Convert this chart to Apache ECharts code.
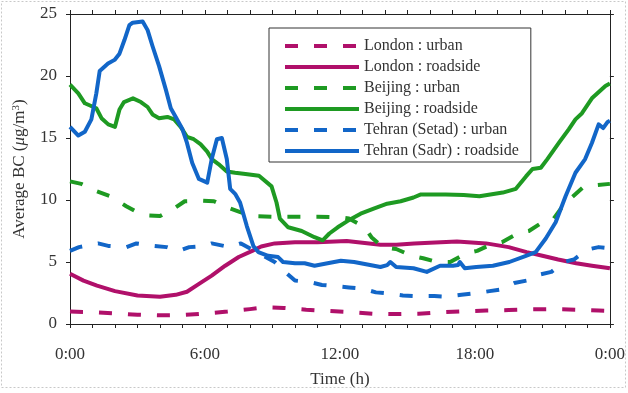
<!DOCTYPE html>
<html>
<head>
<meta charset="utf-8">
<script src="https://cdn.jsdelivr.net/npm/echarts@6/dist/echarts.min.js"></script>
<style>html,body{margin:0;padding:0;background:#fff;}#c{width:628px;height:393px;}</style>
</head>
<body>
<div id="c"></div>
<script>
// ---- data (hour, value) ----
const seriesNames = ['London : urban', 'London : roadside', 'Beijing : urban', 'Beijing : roadside', 'Tehran (Setad) : urban', 'Tehran (Sadr) : roadside'];
const xTickLabels = ['0:00', '6:00', '12:00', '18:00', '0:00'];

const londonUrban = [[0,1.0],[1,0.95],[2,0.85],[3,0.75],[4,0.7],[5,0.72],[6,0.85],[7,1.0],[8,1.2],[8.7,1.35],[9.5,1.3],[10.5,1.15],[11.5,1.05],[12.5,0.95],[13.5,0.82],[14.5,0.8],[15.5,0.82],[16.5,0.95],[17.5,1.03],[18.5,1.08],[19.5,1.12],[20.5,1.18],[21.5,1.2],[22.5,1.15],[23.5,1.08],[24,1.05]];

const londonRoadside = [[0,4.05],[0.6,3.5],[1.2,3.1],[2,2.65],[3,2.3],[4,2.2],[4.7,2.35],[5.2,2.6],[5.7,3.2],[6.3,3.9],[6.9,4.7],[7.5,5.4],[8.1,5.9],[8.5,6.25],[9.1,6.5],[10,6.6],[11,6.6],[12.3,6.7],[13,6.55],[13.8,6.4],[14.5,6.4],[15.3,6.5],[16,6.55],[17.2,6.65],[18.5,6.5],[19.5,6.2],[20.3,5.8],[21,5.5],[21.7,5.2],[22.5,4.9],[23.2,4.7],[24,4.5]];

const beijingUrban = [[0,11.5],[0.5,11.3],[1.2,10.7],[1.8,10.3],[2.5,9.5],[2.9,9.1],[3.5,8.75],[4.0,8.7],[4.7,9.4],[5.1,9.9],[5.9,9.95],[6.4,9.9],[7.0,9.4],[7.6,9.0],[8.2,8.7],[9,8.65],[10,8.65],[11,8.65],[12,8.6],[12.4,8.5],[13.1,7.8],[13.4,7.0],[13.9,6.2],[14.5,6.05],[15.2,5.5],[15.7,5.3],[16.3,5.0],[16.9,5.0],[17.6,5.7],[18.1,5.9],[18.7,6.4],[19.2,6.6],[19.9,7.3],[20.4,7.5],[21,8.2],[21.5,8.5],[22.1,10.0],[22.3,10.2],[22.8,11.0],[23.4,11.2],[24,11.3]];

const beijingRoadside = [[0,19.3],[0.37,18.6],[0.66,17.8],[1.17,17.4],[1.4,16.6],[1.7,16.1],[2.0,15.9],[2.2,17.3],[2.4,17.9],[2.8,18.2],[3.15,17.9],[3.45,17.5],[3.67,16.9],[3.96,16.6],[4.33,16.7],[4.63,16.5],[4.92,15.9],[5.2,15.1],[5.5,14.9],[5.8,14.5],[6.1,13.9],[6.3,13.3],[6.6,12.9],[6.97,12.3],[7.34,12.2],[7.8,12.1],[8.4,11.95],[8.96,11.1],[9.18,9.8],[9.33,8.5],[9.7,7.8],[10.3,7.5],[10.87,7.0],[11.23,6.75],[11.53,7.3],[11.9,7.8],[12.33,8.3],[12.92,8.9],[13.5,9.3],[14.1,9.7],[14.7,9.9],[15.27,10.2],[15.6,10.45],[16.7,10.45],[17.5,10.4],[18.2,10.3],[19.24,10.6],[19.82,10.9],[20.27,11.9],[20.56,12.5],[20.93,12.6],[21.22,13.3],[21.73,14.6],[22.17,15.7],[22.47,16.5],[22.76,17.0],[23.2,18.2],[23.8,19.2],[24,19.4]];

const tehranUrban = [[0,5.9],[0.4,6.2],[1.25,6.5],[1.7,6.3],[2.5,6.2],[2.95,6.5],[3.7,6.3],[4.3,6.2],[4.85,5.9],[5.3,6.2],[6.0,6.3],[6.3,6.5],[7.1,6.2],[7.6,6.5],[8.1,6.0],[8.6,5.5],[9.1,5.0],[9.5,4.3],[10.0,3.5],[10.6,3.4],[11.2,3.15],[11.8,3.05],[12.4,2.95],[13.0,2.85],[13.6,2.55],[14.2,2.45],[14.8,2.3],[15.4,2.25],[16.2,2.25],[16.7,2.2],[17.4,2.35],[17.9,2.45],[18.65,2.65],[19.2,2.8],[19.75,3.3],[20.3,3.5],[20.9,4.0],[21.4,4.2],[21.95,5.0],[22.4,5.2],[23.0,6.0],[23.5,6.2],[24,6.1]];

const tehranRoadside = [[0,15.9],[0.37,15.2],[0.66,15.5],[0.95,16.5],[1.17,18.6],[1.32,20.4],[1.69,21.0],[1.98,21.3],[2.2,21.8],[2.42,22.9],[2.64,24.1],[2.79,24.3],[3.23,24.4],[3.45,23.7],[3.67,22.4],[3.96,20.8],[4.26,18.9],[4.48,17.4],[4.7,16.7],[5.0,15.7],[5.2,14.6],[5.43,13.0],[5.73,11.7],[6.1,11.4],[6.3,13.3],[6.53,14.9],[6.75,15.0],[6.97,13.3],[7.12,10.9],[7.34,10.5],[7.56,9.8],[7.86,7.9],[8.15,6.3],[8.37,5.8],[8.81,5.5],[9.25,5.4],[9.47,5.0],[10.0,4.9],[10.43,4.9],[10.87,4.7],[11.45,4.9],[12.04,5.1],[12.63,5.0],[13.22,4.8],[13.8,4.6],[14.1,4.75],[14.24,5.0],[14.5,4.6],[15.27,4.5],[15.86,4.2],[16.45,4.7],[17.03,4.7],[17.25,4.75],[17.33,5.0],[17.55,4.5],[18.06,4.6],[18.8,4.7],[19.53,5.0],[20.27,5.5],[20.7,5.8],[21.15,6.9],[21.59,8.2],[22.03,10.3],[22.47,12.2],[22.9,13.3],[23.2,14.6],[23.5,16.1],[23.7,15.8],[23.9,16.3],[24,16.4]];

// ---- styling ----
const FONT = '"Liberation Serif", "Times New Roman", serif';
const MAGENTA = '#b0106a', GREEN = '#1e9a22', BLUE = '#1266c8';
const DASH = [13, 16];
const LW = 4;
const seriesData = [londonUrban, londonRoadside, beijingUrban, beijingRoadside, tehranUrban, tehranRoadside];
const seriesColors = [MAGENTA, MAGENTA, GREEN, GREEN, BLUE, BLUE];
const seriesDashed = [true, false, true, false, true, false];

const axisLineStyle = { color: '#222', width: 1 };
const baseX = {
  type: 'value', min: 0, max: 24, interval: 1,
  axisLine: { show: true, onZero: false, lineStyle: axisLineStyle },
  axisTick: { show: true, inside: false, length: 4, lineStyle: axisLineStyle },
  splitLine: { show: false }
};
const baseY = {
  type: 'value', min: 0, max: 25, interval: 5,
  axisLine: { show: true, onZero: false, lineStyle: axisLineStyle },
  axisTick: { show: true, inside: false, length: 4, lineStyle: axisLineStyle },
  splitLine: { show: false }
};

const chart = echarts.init(document.getElementById('c'), null, { renderer: 'canvas' });
chart.setOption({
  animation: false,
  backgroundColor: '#fff',
  grid: { left: 70, right: 13, top: 14, bottom: 67, containLabel: false },
  xAxis: [
    Object.assign({}, baseX, {
      position: 'bottom',
      name: 'Time (h)', nameLocation: 'middle', nameGap: 47,
      nameTextStyle: { fontFamily: FONT, fontSize: 17, color: '#333' },
      axisLabel: {
        show: true, margin: 22, fontFamily: FONT, fontSize: 17, color: '#333',
        formatter: v => (v % 6 === 0 ? xTickLabels[v / 6] : '')
      }
    }),
    Object.assign({}, baseX, { position: 'top', axisLabel: { show: false } })
  ],
  yAxis: [
    Object.assign({}, baseY, {
      position: 'left',
      name: 'Average BC ({i|μ}g/m{sup|3})', nameLocation: 'middle', nameGap: 42,
      nameTextStyle: {
        fontFamily: FONT, fontSize: 17, color: '#333',
        rich: {
          i: { fontFamily: FONT, fontSize: 17, fontStyle: 'italic', color: '#333' },
          sup: { fontFamily: FONT, fontSize: 11, color: '#333', verticalAlign: 'top' }
        }
      },
      axisLabel: { show: true, margin: 13, padding: [6, 0, 0, 0], fontFamily: FONT, fontSize: 17, color: '#333' }
    }),
    Object.assign({}, baseY, { position: 'right', axisLabel: { show: false } })
  ],
  legend: {
    show: true, orient: 'vertical', left: 269, top: 28,
    padding: [10, 12, 3, 14],
    itemWidth: 74, itemHeight: 14, itemGap: 5,
    borderColor: '#333', borderWidth: 1, backgroundColor: '#fff',
    textStyle: { fontFamily: FONT, fontSize: 16, color: '#333' },
    itemStyle: { opacity: 0, borderWidth: 0 },
    lineStyle: { width: LW },
    data: seriesNames
  },
  graphic: [{
    type: 'rect', silent: true, z: -1,
    shape: { x: 1.5, y: 1.5, width: 624, height: 386 },
    style: { fill: 'none', stroke: '#c8c8c8', lineWidth: 1, lineDash: [2, 2] }
  }],
  series: seriesNames.map((name, i) => ({
    name, type: 'line', data: seriesData[i],
    xAxisIndex: 0, yAxisIndex: 0,
    symbol: 'none', showSymbol: false, smooth: false,
    color: seriesColors[i],
    lineStyle: { width: LW, color: seriesColors[i], type: seriesDashed[i] ? DASH : 'solid', cap: 'butt', join: 'round' },
    z: 2 + i
  }))
});
</script>
</body>
</html>
